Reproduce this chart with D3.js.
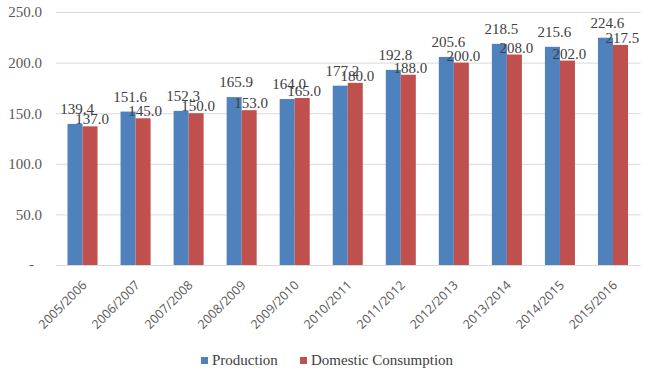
<!DOCTYPE html>
<html>
<head>
<meta charset="utf-8">
<script src="https://cdn.jsdelivr.net/npm/d3@7"></script>
<style>
  body { margin: 0; background: #fff; }
  .gridline line { stroke: #d9d9d9; }
  .gridline path { display: none; }
  .y.axis path, .y.axis line, .x.axis path, .x.axis line { display: none; }
</style>
</head>
<body>
<div id="chart"></div>
<script>
const seasons = ['2005/2006', '2006/2007', '2007/2008', '2008/2009', '2009/2010', '2010/2011',
    '2011/2012', '2012/2013', '2013/2014', '2014/2015', '2015/2016'];
const production = [139.4, 151.6, 152.3, 165.9, 164.0, 177.2, 192.8, 205.6, 218.5, 215.6, 224.6];
const consumption = [137.0, 145.0, 150.0, 153.0, 165.0, 180.0, 188.0, 200.0, 208.0, 202.0, 217.5];
const yTicks = [0, 50, 100, 150, 200, 250];
const seriesNames = ['Production', 'Domestic Consumption'];
const colors = ['#4f81bd', '#c0504d'];

const width = 650;
const height = 373;
const margin = { top: 12, right: 10, bottom: 108, left: 56 };
const chartWidth = width - margin.left - margin.right + 0.5;

const svg = d3.select('#chart')
    .append('svg')
    .attr('width', width)
    .attr('height', height);

const chart = svg.append('g')
    .attr('transform', `translate(${margin.left},${margin.top})`);

const xScale = d3.scaleBand()
    .domain(seasons)
    .range([0, chartWidth - 1])
    .paddingInner(0.434)
    .paddingOuter(0.217);

const xSub = d3.scaleBand()
    .domain(seriesNames)
    .range([0, xScale.bandwidth()]);

const yScale = d3.scaleLinear()
    .domain([0, 250])
    .range([253, 0]);

// gridlines
chart.append('g')
    .classed('gridline', true)
    .call(d3.axisLeft(yScale).tickValues(yTicks).tickSize(-chartWidth).tickFormat(''));

// y axis labels
const yAxis = chart.append('g')
    .classed('y axis', true)
    .call(d3.axisLeft(yScale).tickValues(yTicks).tickSize(0).tickPadding(14)
        .tickFormat(d => d === 0 ? '-' : d.toFixed(1)));
yAxis.selectAll('text')
    .style('font-family', '"Liberation Serif", serif')
    .style('font-size', '15px')
    .attr('fill', '#595959');
yAxis.selectAll('.tick')
    .filter(d => d === 0)
    .select('text')
    .attr('x', -22)
    .attr('dy', '0.2em');

// bars
const rows = seasons.map((s, i) => ({ season: s, values: [production[i], consumption[i]] }));

const groups = chart.selectAll('.group')
    .data(rows)
    .enter()
    .append('g')
    .classed('group', true)
    .attr('transform', d => `translate(${xScale(d.season)},0)`);

groups.selectAll('rect')
    .data(d => d.values.map((v, k) => ({ name: seriesNames[k], value: v, k: k })))
    .enter()
    .append('rect')
    .attr('x', d => xSub(d.name))
    .attr('y', d => yScale(d.value))
    .attr('width', xSub.bandwidth())
    .attr('height', d => yScale(0) - yScale(d.value))
    .attr('fill', d => colors[d.k]);

// data labels
groups.selectAll('.label')
    .data(d => d.values.map((v, k) => ({ name: seriesNames[k], value: v, k: k })))
    .enter()
    .append('text')
    .classed('label', true)
    .attr('x', d => xSub(d.name) + xSub.bandwidth() / 2 + 2)
    .attr('y', d => yScale(d.value) - (d.k === 0 ? 10 : 2))
    .attr('text-anchor', 'middle')
    .style('font-family', '"Liberation Serif", serif')
    .style('font-size', '15px')
    .attr('fill', '#404040')
    .text(d => d.value.toFixed(1));

// x axis labels
const xAxis = chart.append('g')
    .classed('x axis', true)
    .attr('transform', `translate(0,${yScale(0)})`)
    .call(d3.axisBottom(xScale).tickSize(0));
xAxis.selectAll('text')
    .attr('transform', 'translate(5,21) rotate(-45)')
    .attr('x', 0)
    .attr('y', 0)
    .attr('dy', 0)
    .style('text-anchor', 'end')
    .style('font-family', '"Open Sans", sans-serif')
    .style('font-size', '12.5px')
    .attr('fill', '#595959');

// legend
const legend = svg.append('g')
    .attr('transform', 'translate(201,357)');
const legendX = [0, 99];
seriesNames.forEach((name, k) => {
    const item = legend.append('g').attr('transform', `translate(${legendX[k]},0)`);
    item.append('rect')
        .attr('width', 7)
        .attr('height', 7)
        .attr('fill', colors[k]);
    item.append('text')
        .attr('x', 11)
        .attr('y', 8)
        .style('font-family', '"Liberation Serif", serif')
        .style('font-size', '15px')
        .attr('fill', '#404040')
        .text(name);
});
</script>
</body>
</html>
